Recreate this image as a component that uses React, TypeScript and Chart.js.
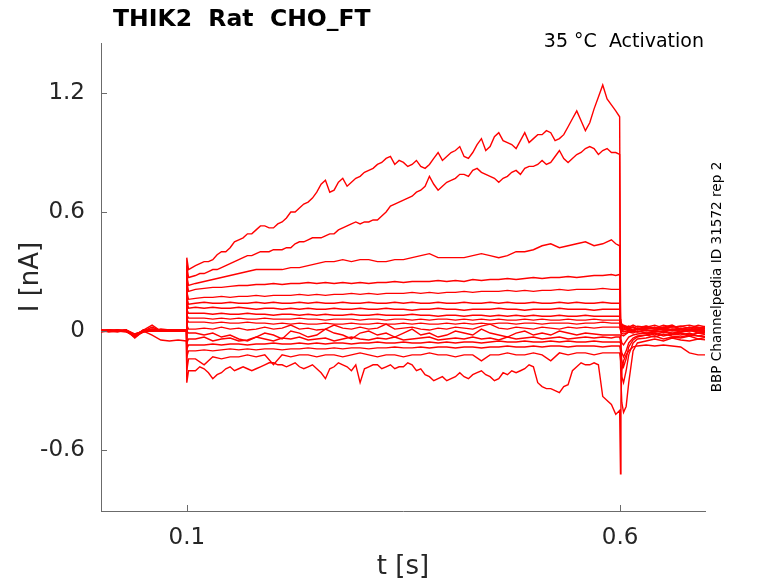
import React, { useEffect, useRef } from 'react';
import { Chart, registerables } from 'chart.js';

Chart.register(...registerables);

// time base [s]: holding, step onset, test pulse, tail
const T_PRE = [0, 0.01, 0.02, 0.03, 0.04, 0.05, 0.06, 0.07, 0.08, 0.09, 0.0995];
const T_ON = [0.1, 0.102];
const T_PULSE = [
  0.11, 0.12, 0.13, 0.14, 0.15, 0.16, 0.17, 0.18, 0.19, 0.2,
  0.21, 0.22, 0.23, 0.24, 0.25, 0.26, 0.27, 0.28, 0.29, 0.3,
  0.31, 0.32, 0.33, 0.34, 0.35, 0.36, 0.37, 0.38, 0.39, 0.4,
  0.41, 0.42, 0.43, 0.44, 0.45, 0.46, 0.47, 0.48, 0.49, 0.5,
  0.51, 0.52, 0.53, 0.54, 0.55, 0.56, 0.57, 0.58, 0.59,
  0.595, 0.5995,
];
const T_OFF = [0.6005, 0.601, 0.602, 0.604, 0.607, 0.61, 0.615, 0.62, 0.63, 0.64, 0.65, 0.66, 0.67, 0.68, 0.69, 0.7];
// extra samples between pulse points for the noisiest sweeps
const T_PULSE_MID = [
  0.115, 0.125, 0.135, 0.145, 0.155, 0.165, 0.175, 0.185, 0.195, 0.205,
  0.215, 0.225, 0.235, 0.245, 0.255, 0.265, 0.275, 0.285, 0.295, 0.305,
  0.315, 0.325, 0.335, 0.345, 0.355, 0.365, 0.375, 0.385, 0.395, 0.405,
  0.415, 0.425, 0.435, 0.445, 0.455, 0.465, 0.475, 0.485, 0.495, 0.505,
  0.515, 0.525, 0.535, 0.545, 0.555, 0.565, 0.575, 0.585,
];

// current [nA] per sweep: pre (11) | on (2) | pulse (51) | off (16)
const SWEEP_01 = [
  0.005, 0.0, 0.005, 0.0, -0.02, 0.0, 0.01, 0.005, 0.0, 0.005, 0.0,
  0.37, 0.31,
  0.33, 0.35, 0.36, 0.40, 0.42, 0.46, 0.49, 0.51, 0.53, 0.52,
  0.55, 0.60, 0.62, 0.65, 0.70, 0.76, 0.71, 0.77, 0.75, 0.78,
  0.81, 0.84, 0.87, 0.84, 0.85, 0.84, 0.83, 0.84, 0.90, 0.88,
  0.91, 0.88, 0.90, 0.97, 0.93, 1.00, 0.95, 0.92, 1.00, 0.97,
  0.99, 1.00, 0.97, 1.03, 1.11, 1.01, 1.12, 1.24, 1.14,
  1.11, 1.08,
  0.06, 0.045, 0.035, 0.03, 0.025, 0.02, 0.03, 0.02, 0.025, 0.015, 0.03, 0.02, 0.025, 0.015, 0.03, 0.02,
];
const SWEEP_01_MID = [
  0.34, 0.35, 0.385, 0.40, 0.45, 0.47, 0.49, 0.53, 0.52, 0.54,
  0.57, 0.60, 0.64, 0.67, 0.74, 0.70, 0.75, 0.73, 0.77, 0.80,
  0.82, 0.85, 0.88, 0.86, 0.83, 0.86, 0.82, 0.87, 0.86, 0.90,
  0.93, 0.87, 0.94, 0.91, 0.98, 0.96, 0.94, 0.96, 0.95, 0.99,
  1.01, 0.96, 0.99, 1.07, 1.06, 1.05, 1.18, 1.17,
];
const SWEEP_02 = [
  0.0, 0.005, 0.0, 0.005, -0.03, 0.005, 0.0, 0.0, 0.005, 0.0, 0.005,
  0.33, 0.27,
  0.28, 0.29, 0.31, 0.32, 0.34, 0.36, 0.38, 0.39, 0.40, 0.41,
  0.41, 0.42, 0.45, 0.46, 0.47, 0.48, 0.49, 0.52, 0.54, 0.54,
  0.55, 0.56, 0.60, 0.64, 0.66, 0.68, 0.71, 0.78, 0.71, 0.75,
  0.77, 0.79, 0.81, 0.80, 0.78, 0.75, 0.78, 0.81, 0.82, 0.83,
  0.86, 0.85, 0.91, 0.85, 0.89, 0.92, 0.92, 0.91, 0.90,
  0.90, 0.89,
  0.05, 0.04, 0.03, 0.025, 0.02, 0.015, 0.02, 0.01, 0.025, 0.015, 0.02, 0.03, 0.01, 0.02, 0.015, 0.025,
];
const SWEEP_02_MID = [
  0.29, 0.30, 0.31, 0.33, 0.35, 0.37, 0.38, 0.40, 0.40, 0.41,
  0.42, 0.44, 0.45, 0.47, 0.47, 0.49, 0.51, 0.53, 0.55, 0.55,
  0.56, 0.58, 0.63, 0.65, 0.67, 0.70, 0.73, 0.74, 0.73, 0.76,
  0.79, 0.78, 0.82, 0.79, 0.77, 0.77, 0.80, 0.79, 0.83, 0.84,
  0.84, 0.88, 0.87, 0.87, 0.90, 0.93, 0.89, 0.92,
];
const SWEEP_03 = [
  -0.005, 0.0, 0.005, 0.0, -0.025, -0.005, 0.005, 0.0, 0.005, 0.005, 0.0,
  0.28, 0.23,
  0.24, 0.25, 0.26, 0.27, 0.28, 0.29, 0.30, 0.31, 0.31, 0.31,
  0.31, 0.32, 0.32, 0.33, 0.34, 0.35, 0.35, 0.36, 0.35, 0.36,
  0.36, 0.35, 0.35, 0.36, 0.36, 0.37, 0.38, 0.39, 0.37, 0.37,
  0.37, 0.37, 0.38, 0.39, 0.38, 0.37, 0.38, 0.40, 0.40, 0.41,
  0.43, 0.44, 0.42, 0.43, 0.44, 0.45, 0.43, 0.44, 0.46,
  0.44, 0.43,
  0.045, 0.035, 0.03, 0.025, 0.02, 0.025, 0.015, 0.025, 0.02, 0.03, 0.015, 0.02, 0.025, 0.03, 0.02, 0.015,
];
const SWEEP_04 = [
  0.0, 0.0, -0.005, 0.005, -0.015, 0.0, 0.02, 0.0, 0.0, 0.005, 0.0,
  0.25, 0.2,
  0.21, 0.215, 0.22, 0.22, 0.225, 0.23, 0.23, 0.235, 0.235, 0.24,
  0.235, 0.24, 0.24, 0.245, 0.24, 0.245, 0.24, 0.245, 0.24, 0.245,
  0.24, 0.245, 0.245, 0.25, 0.245, 0.25, 0.25, 0.25, 0.255, 0.25,
  0.255, 0.25, 0.26, 0.255, 0.26, 0.26, 0.265, 0.26, 0.265, 0.27,
  0.265, 0.27, 0.27, 0.275, 0.27, 0.275, 0.28, 0.28, 0.285,
  0.28, 0.285,
  0.04, 0.03, 0.025, 0.02, 0.015, 0.01, 0.02, 0.005, 0.015, 0.01, 0.02, 0.005, 0.015, 0.01, 0.02, 0.01,
];
const SWEEP_05 = [
  0.005, -0.005, 0.0, 0.0, -0.03, 0.0, 0.005, 0.005, 0.0, 0.0, 0.005,
  0.2, 0.16,
  0.165, 0.17, 0.17, 0.175, 0.17, 0.175, 0.175, 0.18, 0.175, 0.18,
  0.18, 0.18, 0.185, 0.18, 0.185, 0.18, 0.185, 0.185, 0.19, 0.185,
  0.19, 0.185, 0.19, 0.19, 0.19, 0.195, 0.19, 0.195, 0.19, 0.195,
  0.195, 0.2, 0.195, 0.2, 0.2, 0.2, 0.205, 0.2, 0.205, 0.2,
  0.205, 0.205, 0.21, 0.205, 0.21, 0.21, 0.21, 0.215, 0.21,
  0.21, 0.21,
  0.035, 0.03, 0.02, 0.015, 0.01, 0.015, 0.02, 0.01, 0.02, 0.01, 0.015, 0.025, 0.01, 0.02, 0.01, 0.015,
];
const SWEEP_06 = [
  0.0, 0.005, 0.0, -0.005, -0.02, 0.005, 0.0, 0.005, 0.005, 0.0, 0.0,
  0.17, 0.135,
  0.14, 0.145, 0.14, 0.14, 0.145, 0.14, 0.14, 0.145, 0.14, 0.145,
  0.14, 0.14, 0.145, 0.14, 0.145, 0.14, 0.14, 0.145, 0.14, 0.14,
  0.145, 0.14, 0.14, 0.145, 0.14, 0.145, 0.14, 0.14, 0.145, 0.14,
  0.14, 0.145, 0.14, 0.14, 0.145, 0.14, 0.145, 0.14, 0.14, 0.145,
  0.14, 0.14, 0.145, 0.14, 0.145, 0.14, 0.14, 0.145, 0.14,
  0.14, 0.14,
  0.03, 0.02, 0.015, 0.01, 0.005, 0.01, 0.0, 0.01, 0.005, 0.0, 0.015, 0.005, 0.01, 0.0, 0.01, 0.005,
];
const SWEEP_07 = [
  0.005, 0.0, 0.0, 0.005, -0.035, 0.0, 0.005, 0.0, 0.0, 0.005, 0.0,
  0.15, 0.115,
  0.12, 0.115, 0.12, 0.115, 0.115, 0.12, 0.115, 0.11, 0.115, 0.115,
  0.11, 0.115, 0.11, 0.115, 0.11, 0.11, 0.115, 0.11, 0.11, 0.115,
  0.11, 0.11, 0.115, 0.11, 0.11, 0.105, 0.11, 0.11, 0.115, 0.11,
  0.11, 0.105, 0.11, 0.11, 0.11, 0.115, 0.11, 0.11, 0.105, 0.11,
  0.11, 0.11, 0.115, 0.11, 0.11, 0.11, 0.105, 0.11, 0.11,
  0.11, 0.11,
  0.025, 0.02, 0.01, 0.005, 0.01, 0.015, 0.005, 0.015, 0.01, 0.02, 0.005, 0.01, 0.015, 0.005, 0.01, 0.015,
];
const SWEEP_08 = [
  0.0, 0.0, 0.005, 0.0, -0.02, 0.0, 0.0, 0.01, 0.005, 0.0, 0.005,
  0.11, 0.09,
  0.09, 0.09, 0.085, 0.09, 0.085, 0.085, 0.09, 0.085, 0.085, 0.08,
  0.085, 0.085, 0.08, 0.085, 0.08, 0.085, 0.08, 0.08, 0.085, 0.08,
  0.08, 0.085, 0.08, 0.08, 0.08, 0.085, 0.08, 0.08, 0.075, 0.08,
  0.08, 0.075, 0.08, 0.08, 0.075, 0.08, 0.075, 0.08, 0.075, 0.08,
  0.075, 0.075, 0.08, 0.075, 0.075, 0.08, 0.075, 0.075, 0.075,
  0.075, 0.075,
  0.02, 0.01, 0.005, 0.0, -0.005, 0.0, 0.005, -0.005, 0.005, 0.0, -0.005, 0.01, 0.0, 0.005, -0.005, 0.0,
];
const SWEEP_09 = [
  -0.005, 0.005, 0.0, 0.0, -0.025, 0.005, 0.005, 0.0, 0.0, 0.005, 0.0,
  0.08, 0.065,
  0.065, 0.065, 0.06, 0.065, 0.06, 0.065, 0.06, 0.06, 0.065, 0.06,
  0.06, 0.06, 0.065, 0.06, 0.06, 0.055, 0.06, 0.06, 0.06, 0.055,
  0.06, 0.06, 0.055, 0.06, 0.06, 0.055, 0.06, 0.055, 0.06, 0.06,
  0.055, 0.06, 0.055, 0.06, 0.055, 0.06, 0.055, 0.055, 0.06, 0.055,
  0.06, 0.055, 0.055, 0.06, 0.055, 0.055, 0.06, 0.055, 0.055,
  0.055, 0.055,
  0.015, 0.005, 0.0, -0.005, 0.0, 0.005, 0.0, 0.01, 0.0, 0.005, 0.01, 0.0, 0.005, 0.01, 0.0, 0.005,
];
const SWEEP_10 = [
  0.0, 0.0, 0.0, 0.005, -0.015, 0.0, 0.01, 0.0, 0.005, 0.0, 0.0,
  0.06, 0.045,
  0.045, 0.045, 0.04, 0.045, 0.04, 0.04, 0.045, 0.04, 0.04, 0.035,
  0.04, 0.035, 0.04, 0.035, 0.035, 0.04, 0.035, 0.035, 0.04, 0.035,
  0.035, 0.04, 0.035, 0.035, 0.04, 0.035, 0.04, 0.035, 0.035, 0.04,
  0.035, 0.04, 0.035, 0.04, 0.035, 0.04, 0.04, 0.035, 0.04, 0.04,
  0.035, 0.04, 0.04, 0.04, 0.035, 0.04, 0.04, 0.045, 0.04,
  0.04, 0.04,
  0.01, 0.0, -0.01, -0.015, -0.01, -0.005, -0.01, 0.0, -0.01, -0.005, 0.0, -0.01, -0.005, 0.005, -0.01, -0.005,
];
const SWEEP_11 = [
  0.005, 0.005, 0.0, 0.0, -0.03, 0.0, 0.0, 0.005, 0.0, 0.005, 0.005,
  0.03, 0.01,
  0.01, 0.015, 0.01, 0.02, 0.01, 0.015, 0.005, 0.01, 0.02, 0.01,
  0.015, 0.03, 0.01, 0.015, 0.005, 0.01, 0.03, 0.015, 0.01, 0.02,
  0.01, 0.015, 0.035, 0.01, 0.015, 0.02, 0.01, 0.005, 0.015, 0.01,
  0.02, 0.015, 0.01, 0.025, 0.035, 0.015, 0.01, 0.02, 0.015, 0.01,
  0.02, 0.015, 0.01, 0.02, 0.015, 0.02, 0.015, 0.02, 0.02,
  0.02, 0.02,
  0.005, -0.01, -0.02, -0.025, -0.015, -0.005, 0.0, -0.005, 0.005, -0.005, 0.0, 0.005, -0.005, 0.0, 0.005, -0.005,
];
const SWEEP_12 = [
  0.0, 0.0, 0.005, 0.0, -0.02, -0.005, 0.005, 0.0, 0.0, 0.0, 0.0,
  0.0, -0.01,
  -0.01, -0.02, -0.01, -0.03, -0.02, -0.04, -0.05, -0.03, -0.01, -0.02,
  -0.04, 0.0, -0.01, -0.03, -0.02, 0.01, -0.01, -0.02, -0.04, -0.01,
  0.0, -0.02, -0.01, -0.03, -0.01, 0.01, -0.02, -0.01, -0.03, -0.02,
  0.0, -0.01, -0.02, 0.01, -0.01, -0.02, -0.03, -0.01, 0.0, -0.02,
  -0.01, -0.02, 0.0, -0.01, -0.02, -0.01, -0.015, -0.02, -0.02,
  -0.02, -0.02,
  -0.02, -0.04, -0.06, -0.07, -0.05, -0.03, -0.02, -0.015, -0.01, -0.02, -0.005, -0.015, -0.01, -0.02, -0.01, -0.015,
];
const SWEEP_13 = [
  0.0, 0.005, 0.0, 0.0, -0.025, 0.005, 0.03, 0.0, 0.005, 0.0, 0.005,
  -0.06, -0.04,
  -0.04, -0.03, -0.05, -0.04, -0.035, -0.05, -0.045, -0.03, -0.04, -0.05,
  -0.035, -0.04, -0.03, -0.045, -0.04, -0.035, -0.05, -0.04, -0.03, -0.04,
  -0.045, -0.035, -0.04, -0.03, -0.045, -0.04, -0.035, -0.03, -0.045, -0.04,
  -0.035, -0.04, -0.03, -0.04, -0.035, -0.045, -0.03, -0.04, -0.035, -0.03,
  -0.04, -0.035, -0.03, -0.04, -0.035, -0.03, -0.035, -0.03, -0.035,
  -0.03, -0.03,
  -0.05, -0.08, -0.11, -0.13, -0.1, -0.06, -0.035, -0.025, -0.02, -0.01, -0.025, -0.015, -0.02, -0.01, -0.025, -0.015,
];
const SWEEP_14 = [
  0.005, 0.0, 0.0, 0.005, -0.02, 0.0, 0.0, 0.005, 0.0, 0.0, 0.0,
  -0.09, -0.07,
  -0.07, -0.07, -0.065, -0.07, -0.065, -0.065, -0.07, -0.065, -0.065, -0.06,
  -0.065, -0.065, -0.06, -0.065, -0.06, -0.065, -0.06, -0.06, -0.065, -0.06,
  -0.06, -0.055, -0.06, -0.06, -0.055, -0.06, -0.06, -0.055, -0.06, -0.055,
  -0.06, -0.055, -0.055, -0.06, -0.055, -0.05, -0.055, -0.055, -0.05, -0.055,
  -0.055, -0.05, -0.055, -0.05, -0.055, -0.055, -0.05, -0.055, -0.055,
  -0.055, -0.055,
  -0.06, -0.1, -0.15, -0.18, -0.14, -0.08, -0.045, -0.03, -0.02, -0.03, -0.015, -0.025, -0.03, -0.02, -0.025, -0.03,
];
const SWEEP_15 = [
  0.0, 0.0, 0.005, 0.0, -0.03, 0.0, 0.005, 0.0, 0.005, 0.005, 0.0,
  -0.13, -0.1,
  -0.1, -0.095, -0.1, -0.095, -0.09, -0.095, -0.09, -0.095, -0.09, -0.09,
  -0.095, -0.09, -0.09, -0.085, -0.09, -0.09, -0.085, -0.09, -0.085, -0.085,
  -0.09, -0.085, -0.085, -0.08, -0.085, -0.085, -0.08, -0.085, -0.08, -0.08,
  -0.085, -0.08, -0.08, -0.085, -0.08, -0.08, -0.075, -0.08, -0.08, -0.075,
  -0.08, -0.075, -0.075, -0.08, -0.075, -0.075, -0.075, -0.08, -0.075,
  -0.075, -0.075,
  -0.1, -0.16, -0.23, -0.26, -0.2, -0.12, -0.06, -0.04, -0.035, -0.025, -0.04, -0.03, -0.035, -0.025, -0.04, -0.03,
];
const SWEEP_16 = [
  0.0, 0.005, 0.0, 0.0, -0.02, 0.0, -0.02, -0.045, -0.05, -0.045, -0.05,
  -0.2, -0.14,
  -0.14, -0.17, -0.13, -0.14, -0.13, -0.13, -0.12, -0.13, -0.12, -0.17,
  -0.12, -0.13, -0.12, -0.12, -0.13, -0.12, -0.12, -0.13, -0.12, -0.11,
  -0.12, -0.13, -0.12, -0.12, -0.13, -0.12, -0.12, -0.11, -0.12, -0.12,
  -0.13, -0.12, -0.12, -0.15, -0.12, -0.12, -0.11, -0.12, -0.12, -0.11,
  -0.12, -0.15, -0.11, -0.12, -0.11, -0.11, -0.12, -0.11, -0.11,
  -0.11, -0.11,
  -0.15, -0.25, -0.36, -0.41, -0.38, -0.26, -0.1, -0.06, -0.05, -0.04, -0.05, -0.035, -0.045, -0.05, -0.04, -0.045,
];
const SWEEP_17 = [
  0.005, 0.0, 0.0, 0.005, -0.025, 0.005, 0.0, 0.005, 0.0, 0.0, 0.005,
  -0.26, -0.2,
  -0.2, -0.19, -0.24, -0.21, -0.18, -0.19, -0.19, -0.19, -0.17, -0.16,
  -0.17, -0.17, -0.18, -0.18, -0.19, -0.24, -0.18, -0.17, -0.2, -0.26,
  -0.18, -0.17, -0.18, -0.19, -0.18, -0.17, -0.19, -0.23, -0.24, -0.25,
  -0.23, -0.23, -0.22, -0.2, -0.23, -0.24, -0.22, -0.21, -0.19, -0.18,
  -0.28, -0.29, -0.31, -0.27, -0.18, -0.17, -0.16, -0.33, -0.37,
  -0.42, -0.4,
  -0.72, -0.35, -0.2, -0.15, -0.12, -0.1, -0.08, -0.075, -0.07, -0.075, -0.07, -0.075, -0.08, -0.11, -0.12, -0.12,
];
const SWEEP_17_MID = [
  -0.18, -0.21, -0.22, -0.19, -0.2, -0.18, -0.2, -0.18, -0.16, -0.17,
  -0.18, -0.16, -0.19, -0.17, -0.21, -0.19, -0.16, -0.18, -0.17, -0.19,
  -0.17, -0.19, -0.17, -0.18, -0.16, -0.2, -0.22, -0.25, -0.23, -0.24,
  -0.21, -0.24, -0.21, -0.22, -0.25, -0.21, -0.2, -0.2, -0.17, -0.26,
  -0.29, -0.3, -0.28, -0.2, -0.16, -0.17, -0.17, -0.35,
];

const SWEEPS = [
  SWEEP_01, SWEEP_02, SWEEP_03, SWEEP_04, SWEEP_05, SWEEP_06, SWEEP_07, SWEEP_08, SWEEP_09,
  SWEEP_10, SWEEP_11, SWEEP_12, SWEEP_13, SWEEP_14, SWEEP_15, SWEEP_16, SWEEP_17,
];
const SWEEP_MIDS: Record<number, number[]> = { 0: SWEEP_01_MID, 1: SWEEP_02_MID, 16: SWEEP_17_MID };

const X_TICKS = [0.1, 0.6];
const Y_TICKS = [-0.6, 0, 0.6, 1.2];

const TITLE = 'THIK2  Rat  CHO_FT';
const CONDITION = '35 °C  Activation';
const SOURCE = 'BBP Channelpedia ID 31572 rep 2';

const FONT = '"DejaVu Sans", sans-serif';
const AXIS_COLOR = '#6b6b6b';
const TEXT_COLOR = '#262626';

const annotations = {
  id: 'annotations',
  afterDraw(chart: any) {
    const { ctx, chartArea: a, scales } = chart;
    ctx.save();
    // inward tick marks
    ctx.strokeStyle = AXIS_COLOR;
    ctx.lineWidth = 1;
    ctx.beginPath();
    Y_TICKS.forEach((v) => {
      const y = Math.round(scales.y.getPixelForValue(v)) + 0.5;
      ctx.moveTo(a.left, y);
      ctx.lineTo(a.left + 6, y);
    });
    X_TICKS.forEach((v) => {
      const x = Math.round(scales.x.getPixelForValue(v)) + 0.5;
      ctx.moveTo(x, a.bottom);
      ctx.lineTo(x, a.bottom - 6);
    });
    ctx.stroke();

    ctx.fillStyle = '#000';
    ctx.textBaseline = 'alphabetic';
    ctx.font = `bold 23.5px ${FONT}`;
    ctx.textAlign = 'left';
    ctx.fillText(TITLE, a.left + 12, 26);

    ctx.font = `19px ${FONT}`;
    ctx.textAlign = 'right';
    ctx.fillText(CONDITION, a.right - 1, 47);

    ctx.font = `13.6px ${FONT}`;
    ctx.textAlign = 'center';
    ctx.textBaseline = 'middle';
    ctx.translate(a.right + 12, (a.top + a.bottom) / 2);
    ctx.rotate(-Math.PI / 2);
    ctx.fillText(SOURCE, 0, 0);
    ctx.restore();
  },
};

const App: React.FC = () => {
  const canvasRef = useRef<HTMLCanvasElement | null>(null);
  const chartRef = useRef<Chart | null>(null);

  useEffect(() => {
    if (!canvasRef.current) return;
    if (chartRef.current) chartRef.current.destroy();

    const time = [...T_PRE, ...T_ON, ...T_PULSE, ...T_OFF];

    const points = (sweep: number[], i: number) => {
      const pts = sweep.map((v, k) => ({ x: time[k], y: v }));
      const mid = SWEEP_MIDS[i];
      if (mid) {
        mid.forEach((v, k) => pts.push({ x: T_PULSE_MID[k], y: v }));
        pts.sort((p, q) => p.x - q.x);
      }
      return pts;
    };

    chartRef.current = new Chart(canvasRef.current, {
      type: 'line',
      data: {
        datasets: SWEEPS.map((sweep, i) => ({
          label: `sweep ${i + 1}`,
          data: points(sweep, i),
          borderColor: '#ff0000',
          borderWidth: 1.4,
          pointRadius: 0,
          tension: 0,
          fill: false,
        })),
      },
      options: {
        animation: false,
        responsive: false,
        events: [],
        layout: { padding: { top: 43, right: 73, left: 0, bottom: 0 } },
        plugins: {
          legend: { display: false },
          tooltip: { enabled: false },
          title: { display: false },
        },
        scales: {
          x: {
            type: 'linear',
            min: 0.001,
            max: 0.698,
            afterFit: (scale: any) => {
              scale.height = 72;
            },
            afterBuildTicks: (scale: any) => {
              scale.ticks = X_TICKS.map((value) => ({ value }));
            },
            grid: { display: false, drawTicks: false },
            border: { display: true, color: AXIS_COLOR, width: 1 },
            ticks: {
              padding: 13,
              color: TEXT_COLOR,
              font: { family: FONT, size: 23 },
              callback: (v: any) => String(v),
            },
            title: {
              display: true,
              text: 't [s]',
              color: TEXT_COLOR,
              font: { family: FONT, size: 26 },
              padding: { top: 0, bottom: 0 },
            },
          },
          y: {
            type: 'linear',
            min: -0.907,
            max: 1.452,
            afterFit: (scale: any) => {
              scale.width = 101;
            },
            afterBuildTicks: (scale: any) => {
              scale.ticks = Y_TICKS.map((value) => ({ value }));
            },
            grid: { display: false, drawTicks: false },
            border: { display: true, color: AXIS_COLOR, width: 1 },
            ticks: {
              padding: 16,
              color: TEXT_COLOR,
              font: { family: FONT, size: 23 },
              callback: (v: any) => String(v),
            },
            title: {
              display: true,
              text: 'I [nA]',
              color: TEXT_COLOR,
              font: { family: FONT, size: 26 },
              padding: { top: 16, bottom: 0 },
            },
          },
        },
      },
      plugins: [annotations],
    });

    return () => {
      if (chartRef.current) {
        chartRef.current.destroy();
        chartRef.current = null;
      }
    };
  }, []);

  return (
    <div style={{ position: 'fixed', left: 0, top: 0, width: 778, height: 583, background: '#fff' }}>
      <canvas ref={canvasRef} width={778} height={583} />
    </div>
  );
};

export default App;
